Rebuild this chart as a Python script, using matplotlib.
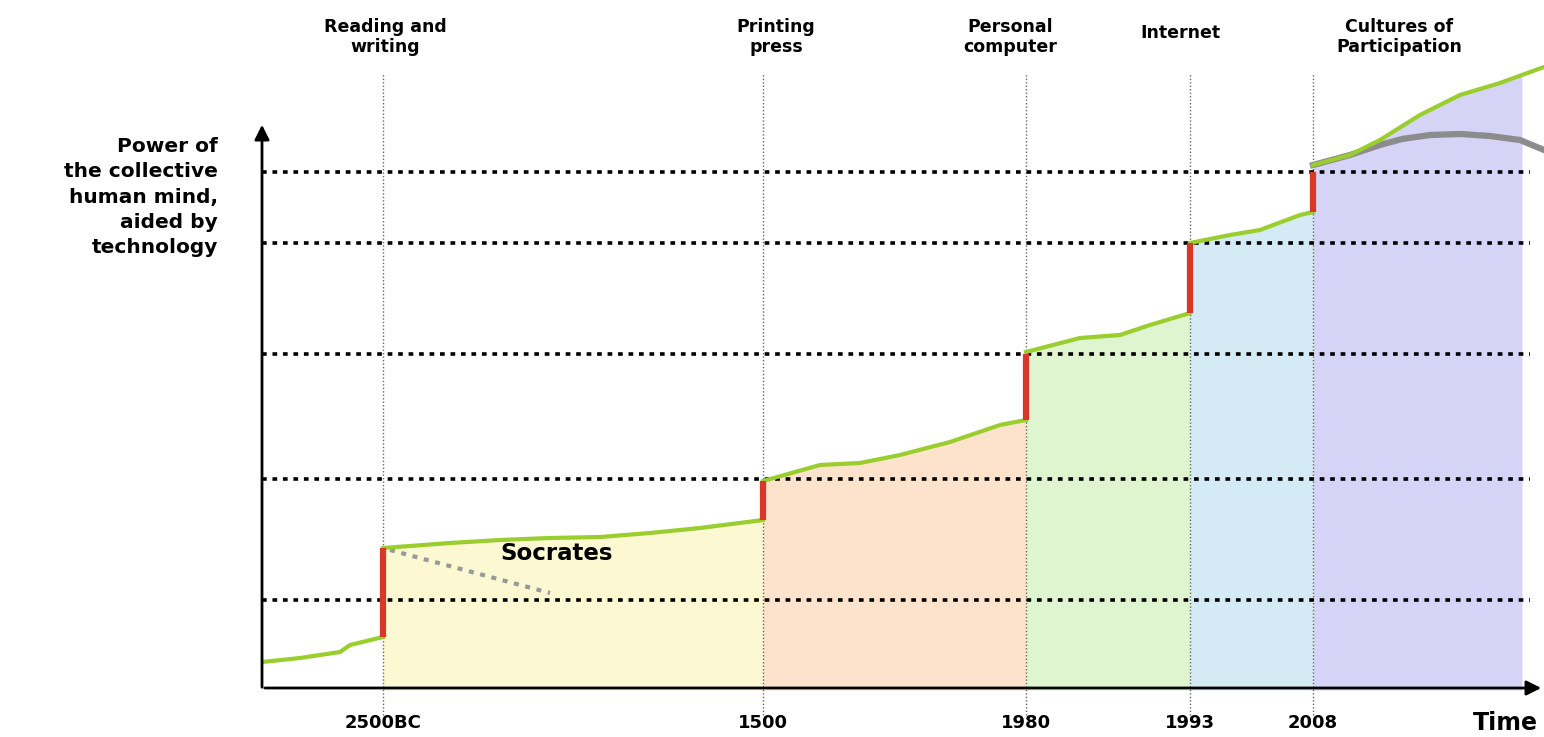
import numpy as np
import matplotlib.pyplot as plt

plt.rcParams['font.family'] = ['DejaVu Sans']

# era boundaries on the (non-linear) timeline
era_x = [121, 501, 764, 928, 1051]
era_years = ['2500BC', '1500', '1980', '1993', '2008']
era_names = ['Reading and\nwriting', 'Printing\npress', 'Personal\ncomputer', 'Internet', 'Cultures of\nParticipation']
era_colors = ['#fbf8d2', '#fde3cc', '#dff5cf', '#d4ebf6', '#d6d4f6']
fill_end = 1260

# dotted reference levels
levels = [90, 211, 336, 447, 518]

# growth curve, one piece per era (timeline, power)
seg_x = [
    [0, 38, 78, 88, 121],
    [121, 188, 238, 288, 338, 388, 438, 501],
    [501, 558, 598, 638, 688, 738, 764],
    [764, 818, 858, 888, 928],
    [928, 968, 998, 1038, 1051],
    [1051, 1088, 1118, 1158, 1198, 1238, 1282],
]
seg_y = [
    [28, 32, 38, 45, 53],
    [142, 147, 150, 152, 153, 157, 162, 170],
    [209, 225, 227, 235, 248, 265, 270],
    [338, 352, 355, 365, 377],
    [447, 455, 460, 475, 478],
    [525, 535, 550, 575, 595, 607, 623],
]
# jumps at each new technology
jump_low = [53, 170, 270, 377, 478]
jump_high = [142, 209, 336, 447, 518]

# alternative (gray) trajectory after 2008
alt_x = [1051, 1088, 1118, 1140, 1168, 1198, 1228, 1258, 1282]
alt_y = [525, 535, 545, 551, 555, 556, 554, 550, 540]

W, H = 1544, 737
fig = plt.figure(figsize=(W / 100, H / 100), dpi=100)
ax = fig.add_axes([262 / W, 47 / H, (W - 262) / W, 690 / H])
ax.set_xlim(0, 1282)
ax.set_ylim(0, 690)
ax.axis('off')

# coloured areas below the curve
for i in range(5):
    xs = np.array(seg_x[i + 1], dtype=float)
    ys = np.array(seg_y[i + 1], dtype=float)
    end = era_x[i + 1] if i < 4 else fill_end
    xx = np.linspace(era_x[i], end, 60)
    ax.fill_between(xx, 0, np.interp(xx, xs, ys), color=era_colors[i], lw=0, zorder=1)

# vertical dotted lines
for x in era_x:
    ax.plot([x, x], [-25, 617], color='#666666', lw=1, ls=(0, (1, 1.5)), zorder=2, clip_on=False)

# horizontal dotted levels
for lv in levels:
    ax.plot([0, 1268], [lv, lv], color='black', lw=2.6, ls=(0, (1.3, 1.6)), zorder=3)

# Socrates decline
ax.plot([128, 288], [140, 97], color='#999999', lw=3, ls=(0, (1.2, 1.6)), zorder=3)
ax.text(238, 130, 'Socrates', fontsize=16.5, fontweight='bold', zorder=5)

# curves
ax.plot(alt_x, alt_y, color='#8c8c8c', lw=4.5, zorder=4, solid_joinstyle='round')
for xs, ys in zip(seg_x, seg_y):
    ax.plot(xs, ys, color='#9acd2e', lw=3, zorder=5)
for x, lo, hi in zip(era_x, jump_low, jump_high):
    ax.plot([x, x], [lo, hi], color='#d8382a', lw=4.5, zorder=6, solid_capstyle='butt')

# axes with arrows
ax.annotate('', xy=(0, 568), xytext=(0, 0),
            arrowprops=dict(arrowstyle='-|>', color='black', lw=2, mutation_scale=22), zorder=7)
ax.annotate('', xy=(1282, 2), xytext=(0, 2),
            arrowprops=dict(arrowstyle='-|>', color='black', lw=2, mutation_scale=22), zorder=7,
            annotation_clip=False)

# labels
name_x = [123, 514, 748, 918, 1137]
for x, name in zip(name_x, era_names):
    ax.text(x, 653 if '\n' in name else 657, name, ha='center', va='center', fontsize=12.5,
            fontweight='bold', linespacing=1.15, clip_on=False)
for x, yr in zip(era_x, era_years):
    ax.text(x, -33, yr, ha='center', va='center', fontsize=13, fontweight='bold', clip_on=False)
ax.text(1211, -33, 'Time', ha='left', va='center', fontsize=17, fontweight='bold', clip_on=False)

ax.text(-44, 553, 'Power of\nthe collective\nhuman mind,\naided by\ntechnology', ha='right', va='top',
        fontsize=14.5, fontweight='bold', linespacing=1.42, clip_on=False)

fig.savefig('out.png', dpi=100)
